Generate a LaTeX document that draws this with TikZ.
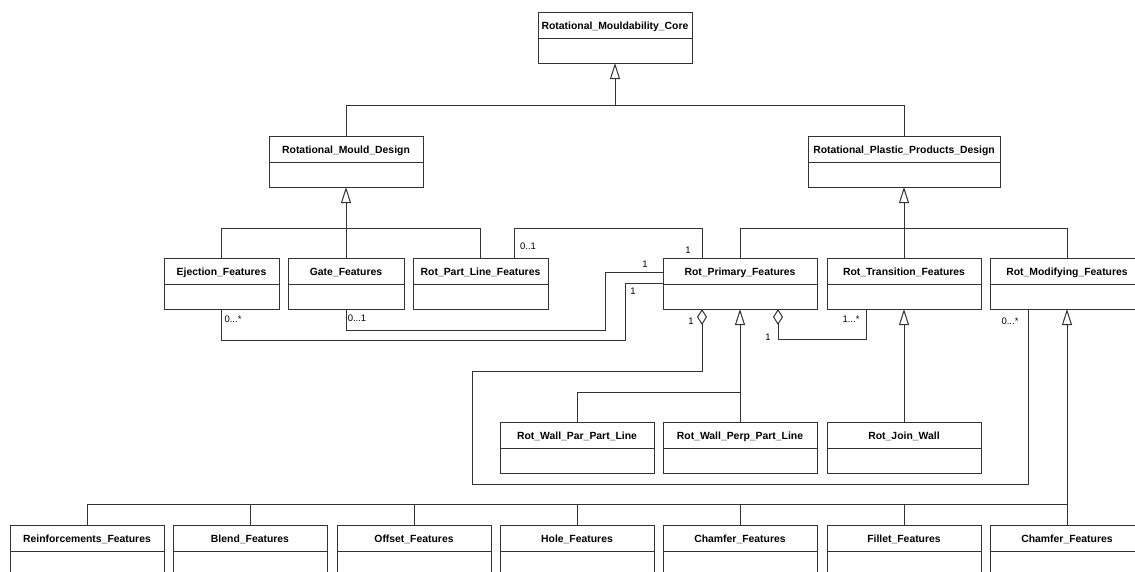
\documentclass[tikz,border=0pt]{standalone}
\usepackage{fontspec}
\setmainfont{Liberation Sans}
\usetikzlibrary{arrows.meta}

\begin{document}
\begin{tikzpicture}[x=1pt,y=-1pt,
		cls/.style={draw=black!80, line width=1pt, inner sep=0pt, outer sep=0pt, anchor=north west,
			minimum width=#1, minimum height=51pt, text height=17.5pt, text depth=33.5pt,
			font=\fontsize{10.4}{12}\selectfont\bfseries,
			path picture={\draw[black!80, line width=1pt] ([yshift=-26.5pt]path picture bounding box.north west) -- ([yshift=-26.5pt]path picture bounding box.north east);}},
		cls/.default=154pt,
		conn/.style={draw=black!80, line width=1pt},
		inh/.style={conn, -{Triangle[open, length=16pt, width=10pt, fill=white]}},
		agg/.style={conn, {Diamond[open, length=16pt, width=10pt, fill=white]}-},
		mult/.style={font=\fontsize{9.5}{10}\selectfont, inner sep=0pt}]
	\fill[white] (0,0) rectangle (1135,571);
	\useasboundingbox (0,0) rectangle (1135,571);
	% classes
	\node[cls] (core) at (538,12) {Rotational\_Mouldability\_Core};
	\node[cls] (mould) at (269,136) {Rotational\_Mould\_Design};
	\node[cls=192pt] (plastic) at (808,136) {Rotational\_Plastic\_Products\_Design};
	\node[cls=115pt] (eject) at (164,258) {Ejection\_Features};
	\node[cls=116pt] (gate) at (288,258) {Gate\_Features};
	\node[cls=135pt] (rpl) at (413,258) {Rot\_Part\_Line\_Features};
	\node[cls] (prim) at (663,258) {Rot\_Primary\_Features};
	\node[cls] (trans) at (827,258) {Rot\_Transition\_Features};
	\node[cls] (modif) at (990,258) {Rot\_Modifying\_Features};
	\node[cls] (par) at (500,422) {Rot\_Wall\_Par\_Part\_Line};
	\node[cls] (perp) at (663,422) {Rot\_Wall\_Perp\_Part\_Line};
	\node[cls] (join) at (827,422) {Rot\_Join\_Wall};
	\node[cls] (reinf) at (10,525) {Reinforcements\_Features};
	\node[cls] (blend) at (173,525) {Blend\_Features};
	\node[cls] (offset) at (337,525) {Offset\_Features};
	\node[cls] (hole) at (500,525) {Hole\_Features};
	\node[cls] (chamf) at (663,525) {Chamfer\_Features};
	\node[cls] (fillet) at (827,525) {Fillet\_Features};
	\node[cls] (chamfb) at (990,525) {Chamfer\_Features};
	% junctions
	\coordinate (jc) at (615,105);
	\coordinate (jm) at (346,228);
	\coordinate (jp) at (904,228);
	\coordinate (jq) at (740,392);
	\coordinate (jb) at (1067,504);
	% generalisation
	\draw[inh] (mould.north) |- (jc) -- (core.south);
	\draw[conn] (plastic.north) |- (jc);
	\draw[inh] (gate.north) -- (mould.south);
	\draw[conn] (eject.north) |- (jm);
	\draw[conn] (rpl.north) |- (jm);
	\draw[inh] (trans.north) -- (plastic.south);
	\draw[conn] (prim.north) |- (jp);
	\draw[conn] (modif.north) |- (jp);
	\draw[inh] (perp.north) -- (prim.south);
	\draw[conn] (par.north) |- (jq);
	\draw[inh] (join.north) -- (trans.south);
	\draw[inh] (chamfb.north) -- (modif.south);
	\draw[conn] (reinf.north) |- (jb);
	\foreach \n in {blend,offset,hole,chamf,fillet}
		\draw[conn] (\n.north) -- (\n.north |- jb);
	% associations
	\draw[conn] ([xshift=-34pt]rpl.north east) |- (702,228) -- ([xshift=39pt]prim.north west);
	\draw[conn] (eject.south) |- (625,340) |- ([yshift=-25pt]prim.north west);
	\draw[conn] (gate.south) |- (605,330) |- ([yshift=-14pt]prim.north west);
	\draw[agg] ([xshift=39pt]prim.south west) |- (472,371) |- (1028,484) -- ([xshift=38pt]modif.south west);
	\draw[agg] ([xshift=-39pt]prim.south east) |- (866,339) -- ([xshift=39pt]trans.south west);
	% multiplicities
	\node[mult] (m1) at (528,246) {0..1};
	\node[mult] (m2) at (688,250) {1};
	\node[mult] (m3) at (645,264) {1};
	\node[mult] (m4) at (633,291) {1};
	\node[mult] (m5) at (233,319) {0...*};
	\node[mult] (m6) at (357,318) {0...1};
	\node[mult] (m7) at (691,321) {1};
	\node[mult] (m8) at (768,337) {1};
	\node[mult] (m9) at (851,319) {1...*};
	\node[mult] (m10) at (1010,321) {0...*};
\end{tikzpicture}
\end{document}
